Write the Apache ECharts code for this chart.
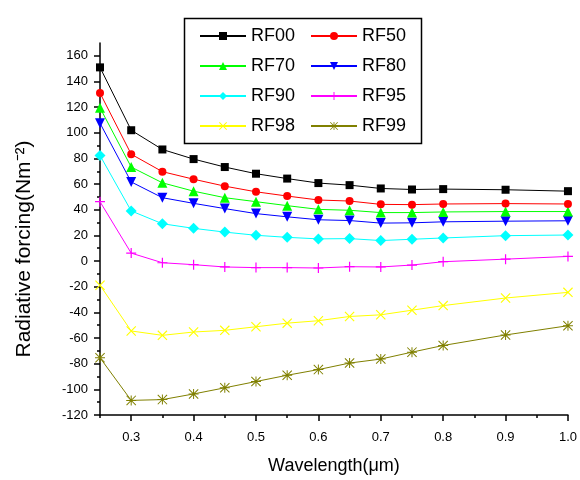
<!DOCTYPE html>
<html><head><meta charset="utf-8">
<script src="https://cdn.jsdelivr.net/npm/echarts@6/dist/echarts.min.js"></script>
<style>html,body{margin:0;padding:0;background:#fff}#c{width:580px;height:480px}</style>
</head><body><div id="c"></div>
<script>
const wavelength = [0.25,0.3,0.35,0.4,0.45,0.5,0.55,0.6,0.65,0.7,0.75,0.8,0.9,1.0];
const RF00 = [151,102,87,79.5,73.3,68.1,64.3,60.8,59.2,56.6,55.8,56.1,55.6,54.5];
const RF50 = [131,83.3,69.7,63.8,58.4,54,50.7,47.6,46.8,44.2,44,44.5,44.8,44.5];
const RF70 = [119.5,73.3,61,54.5,49.4,46.3,43.2,40.3,39.6,37.8,37.8,38.3,38.6,38.6];
const RF80 = [107.5,61.7,49.4,45,40.9,37,34.5,32.2,31.6,29.6,29.8,30.6,31.1,31.4];
const RF90 = [82.3,39.1,29.1,25.5,22.6,20.1,18.5,17.3,17.5,16,17,18,19.8,20.3];
const RF95 = [46.3,6.2,-1.3,-2.8,-4.6,-5.1,-5.1,-5.4,-4.4,-4.6,-3.1,-0.5,1.5,3.6];
const RF98 = [-18.8,-54.5,-57.9,-55.3,-54,-51.2,-48.4,-46.5,-43.2,-41.9,-38.3,-34.7,-28.8,-24.4];
const RF99 = [-75.4,-108.6,-108,-103.6,-98.8,-93.9,-89,-84.6,-79.5,-76.4,-71,-65.8,-57.6,-50.4];
const xMajorTicks = [0.3,0.4,0.5,0.6,0.7,0.8,0.9,1.0];
const xMinorTicks = [0.25,0.35,0.45,0.55,0.65,0.75,0.85,0.95];
const yTicks = [-120,-100,-80,-60,-40,-20,0,20,40,60,80,100,120,140,160];
const seriesNames = ['RF00','RF50','RF70','RF80','RF90','RF95','RF98','RF99'];
const seriesData = [RF00,RF50,RF70,RF80,RF90,RF95,RF98,RF99];

const FONT = '"Liberation Sans", Arial, sans-serif';
const PLUS = 'path://M4.4,0H5.6V4.4H10V5.6H5.6V10H4.4V5.6H0V4.4H4.4Z';
const CROSS = 'path://M0.8,0L10,9.2L9.2,10L0,0.8Z M9.2,0L10,0.8L0.8,10L0,9.2Z';
const STAR = 'path://M0,4.5H10V5.5H0Z M4.5,0H5.5V10H4.5Z M0.7,0L10,9.3L9.3,10L0,0.7Z M9.3,0L10,0.7L0.7,10L0,9.3Z';
const styles = [
  {color:'#000000', symbol:'rect', size:8},
  {color:'#ff0000', symbol:'circle', size:8},
  {color:'#00ff00', symbol:'triangle', size:10},
  {color:'#0000ff', symbol:'triangle', size:10, rotate:180},
  {color:'#00ffff', symbol:'diamond', size:11},
  {color:'#ff00ff', symbol:PLUS, size:10},
  {color:'#ffff00', symbol:CROSS, size:10},
  {color:'#808000', symbol:STAR, size:10}
];

const series = seriesNames.map((n,i)=>({
  name:n, type:'line', xAxisIndex:0, yAxisIndex:0,
  data: wavelength.map((x,j)=>[x, seriesData[i][j]]),
  symbol: styles[i].symbol, symbolSize: styles[i].size, symbolRotate: styles[i].rotate||0,
  showAllSymbol:true,
  lineStyle:{color:styles[i].color, width:1},
  itemStyle:{color:styles[i].color, borderWidth:0},
  z: 10 - i
}));

const legendBase = {orient:'vertical', top:26, padding:0,
  itemWidth:46, itemHeight:10, itemGap:10,
  textStyle:{fontFamily:FONT, fontSize:18, color:'#000', lineHeight:20}};

const chart = echarts.init(document.getElementById('c'), null, {renderer:'canvas'});
chart.setOption({
  animation:false,
  backgroundColor:'#fff',
  grid:{left:100, right:8, top:43, bottom:61, containLabel:false},
  xAxis:[
    {type:'value', min:0.25, max:1.0, interval:0.05,
     name:'Wavelength(μm)', nameLocation:'middle', nameGap:42,
     nameTextStyle:{fontFamily:FONT, fontSize:18, color:'#000'},
     axisLine:{show:true, onZero:false, lineStyle:{color:'#000', width:1.5}},
     axisTick:{show:true, customValues:xMajorTicks, length:6, lineStyle:{color:'#000', width:1.5}},
     axisLabel:{customValues:xMajorTicks, fontFamily:FONT, fontSize:13, color:'#000', margin:16,
       formatter:v=>v.toFixed(1)},
     splitLine:{show:false}},
    {type:'value', min:0.25, max:1.0, interval:0.05, position:'bottom',
     axisLine:{show:false, onZero:false},
     axisTick:{show:true, customValues:xMinorTicks, length:3, lineStyle:{color:'#000', width:1.5}},
     axisLabel:{show:false}, splitLine:{show:false}}
  ],
  yAxis:[
    {type:'value', min:-120, max:170, interval:20,
     name:'Radiative forcing(Nm⁻²)', nameLocation:'middle', nameGap:65, nameRotate:90,
     nameTextStyle:{fontFamily:FONT, fontSize:21, color:'#000', padding:[0,40,0,0]},
     axisLine:{show:true, onZero:false, lineStyle:{color:'#000', width:1.5}},
     axisTick:{show:true, customValues:yTicks, length:6, lineStyle:{color:'#000', width:1.5}},
     minorTick:{show:true, splitNumber:2, length:3, lineStyle:{color:'#000', width:1.5}},
     axisLabel:{customValues:yTicks, fontFamily:FONT, fontSize:13, color:'#000', margin:12},
     splitLine:{show:false}, minorSplitLine:{show:false}}
  ],
  legend:[
    Object.assign({data:['RF00','RF70','RF90','RF98'], left:199}, legendBase),
    Object.assign({data:['RF50','RF80','RF95','RF99'], left:310}, legendBase)
  ],
  graphic:[
    {type:'rect', left:182, top:16, shape:{width:237, height:125},
     style:{fill:null, stroke:'#000', lineWidth:1.5}, z:100}
  ],
  series: series
});
</script></body></html>
